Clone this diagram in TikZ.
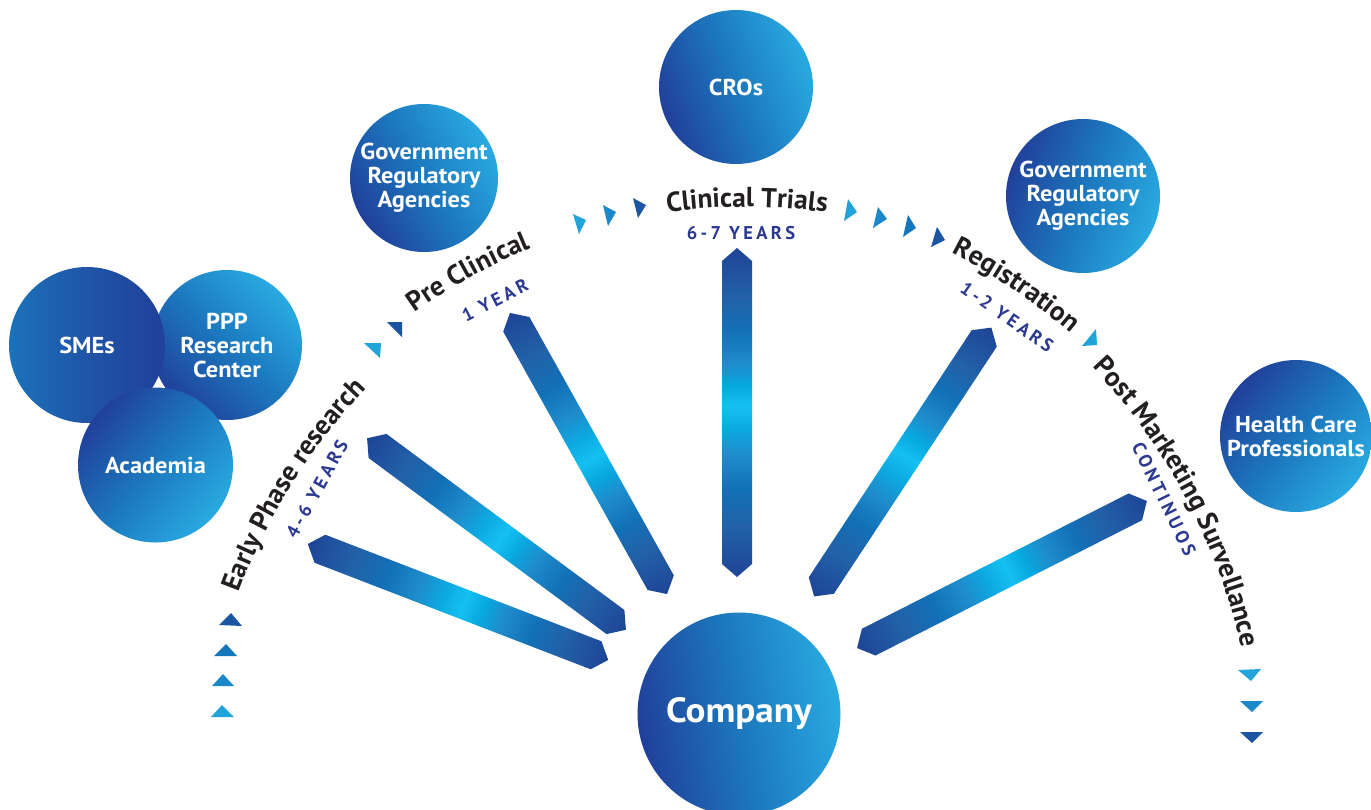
\documentclass[tikz,border=0pt]{standalone}
\usepackage{fontspec}
\setmainfont{PT Sans}
\newfontfamily\subfnt{PT Sans}[LetterSpace=18]
\newfontfamily\circfnt{PT Sans}[FakeStretch=1.06]
\usetikzlibrary{decorations.text}
\definecolor{cDark}{HTML}{21409A}
\definecolor{cMid}{HTML}{1C78BE}
\definecolor{cLight}{HTML}{29AAE1}
\definecolor{cSme}{HTML}{1B73BA}
\definecolor{labcol}{HTML}{231F20}
\definecolor{subcol}{HTML}{2B3990}
\definecolor{bA}{HTML}{1E4496}
\definecolor{bB}{HTML}{2261A8}
\definecolor{bC}{HTML}{1271B7}
\definecolor{bD}{HTML}{1F8CCB}
\definecolor{bE}{HTML}{0CA9E1}
\definecolor{bF}{HTML}{15C0F1}
\definecolor{bG}{HTML}{07A8E0}
\definecolor{tDk}{HTML}{1C56A3}
\definecolor{tMd}{HTML}{1577BB}
\definecolor{tM2}{HTML}{1B88C9}
\definecolor{tLt}{HTML}{21A3DC}
\pgfdeclarehorizontalshading{barshade}{100bp}{color(0bp)=(bA); color(25bp)=(bA); color(32.5bp)=(bB); color(38.5bp)=(bC); color(43.5bp)=(bD); color(47.5bp)=(bE); color(51bp)=(bF); color(54bp)=(bG); color(57.5bp)=(bD); color(62.5bp)=(bC); color(67.5bp)=(bB); color(75bp)=(bA); color(100bp)=(bA)}
\newcommand{\labsty}{\fontsize{27.5}{31}\selectfont\bfseries}
\newcommand{\dblbar}[4]{%
  \begin{scope}[transform canvas={shift={(#1,#2)},rotate=#3}]
    \pgfmathsetmacro{\hl}{#4/2}
    \pgfmathsetmacro{\hs}{#4/2-13}
    \shade[shading=barshade] (-\hl,0) -- (-\hs,15) -- (\hs,15) -- (\hl,0) -- (\hs,-15) -- (-\hs,-15) -- cycle;
  \end{scope}}
\begin{document}
\begin{tikzpicture}[x=1pt,y=1pt,
  bub/.style={circle, inner sep=0pt, align=center, text=white,
    font=\circfnt\fontsize{23}{24}\selectfont\bfseries},
  grad/.style={bottom color=cDark, top color=cLight, middle color=cMid, shading angle=#1},
  sub/.style={text=subcol, inner sep=0pt, font=\subfnt\fontsize{18.5}{20}\selectfont\bfseries},
  lab/.style={decorate, decoration={text along path, text align=center, text color=labcol, text={|\labsty|#1}}}
]
\useasboundingbox (0,-809) rectangle (1371,0);
\fill[white] (0,-809) rectangle (1371,0);

% double-headed bars
\dblbar{458}{-602}{-21.1}{322}
\dblbar{496.5}{-534}{-36.5}{322}
\dblbar{588.5}{-453.5}{-60.8}{322}
\dblbar{737}{-412.5}{90}{329}
\dblbar{902.75}{-462}{56.6}{322}
\dblbar{1002}{-574.5}{26.9}{325}

% circles
\node[bub, minimum size=154pt, grad=-70] (cro) at (736,-87) {CROs};
\node[bub, minimum size=148pt, grad=-60] (govl) at (424,-178) {Government\\Regulatory\\Agencies};
\node[bub, minimum size=154pt, grad=-110] (govr) at (1083,-196) {Government\\Regulatory\\Agencies};
\node[bub, minimum size=150pt, grad=-45] (ppp) at (227,-345) {PPP\\Research\\Center};
\node[bub, minimum size=156pt, bottom color=cDark, top color=cSme, middle color=cDark!60!cSme, shading angle=90] (smes) at (87,-345) {SMEs};
\node[bub, minimum size=155pt, grad=-130] (acad) at (155.5,-465) {Academia};
\node[bub, minimum size=152pt, grad=-130] (hcp) at (1296,-436) {Health Care\\Professionals};
\node[bub, minimum size=203pt, grad=-80, font=\circfnt\fontsize{35}{40}\selectfont\bfseries] (comp) at (739,-714) {Company};

% phase labels along arcs
\path[lab={Early Phase research}] ([shift={(175:600)}]801,-802) arc[start angle=175, end angle=121, radius=600];
\path[lab={Pre Clinical}] ([shift={(140:600)}]762,-802) arc[start angle=140, end angle=98, radius=600];
\path[lab={Clinical Trials}] ([shift={(110:600)}]747,-807) arc[start angle=110, end angle=70, radius=600];
\path[lab={Registration}] ([shift={(76:600)}]678,-787) arc[start angle=76, end angle=36, radius=600];
\path[lab={Post Marketing Survellance}] ([shift={(56:600)}]656,-779) arc[start angle=56, end angle=0, radius=600];

% durations
\node[sub, rotate=61] (y46) at (317,-489) {4-6 YEARS};
\node[sub, rotate=27] (y1) at (495,-300) {1 YEAR};
\node[sub] (y67) at (741,-233) {6-7 YEARS};
\node[sub, rotate=-35] (y12) at (1007,-317) {1-2 YEARS};
\node[sub, rotate=-64] (ycont) at (1164,-499) {CONTINUOS};

% small triangles, left column
\fill[tDk] (231,-613) -- (219,-625) -- (242,-626) -- cycle;
\fill[tMd] (226,-644) -- (214,-656) -- (237,-656) -- cycle;
\fill[tM2] (223,-674) -- (212,-686) -- (234,-686) -- cycle;
\fill[tLt] (222,-705) -- (211,-717) -- (234,-717) -- cycle;
% before Pre Clinical
\fill[tLt] (364,-343) -- (381,-343) -- (380,-358) -- cycle;
\fill[tDk] (387,-322) -- (402,-322) -- (402,-337) -- cycle;
% before Clinical Trials
\fill[tLt] (573,-214) -- (586,-220) -- (579,-234) -- cycle;
\fill[tM2] (603,-205) -- (616,-212) -- (608,-226) -- cycle;
\fill[tDk] (633,-198) -- (646,-205) -- (638,-218) -- cycle;
% after Clinical Trials
\fill[tLt] (848,-199) -- (857,-212) -- (844,-221) -- cycle;
\fill[tM2] (878,-207) -- (887,-219) -- (873,-228) -- cycle;
\fill[tMd] (908,-215) -- (916,-228) -- (903,-237) -- cycle;
\fill[tDk] (937,-227) -- (945,-240) -- (931,-247) -- cycle;
% after Registration
\fill[tLt] (1096,-329) -- (1097,-345) -- (1082,-346) -- cycle;
% right column
\fill[tLt] (1238,-670) -- (1261,-669) -- (1251,-681) -- cycle;
\fill[tM2] (1240,-701) -- (1263,-701) -- (1252,-712) -- cycle;
\fill[tDk] (1240,-732) -- (1263,-732) -- (1252,-743) -- cycle;
\end{tikzpicture}
\end{document}
